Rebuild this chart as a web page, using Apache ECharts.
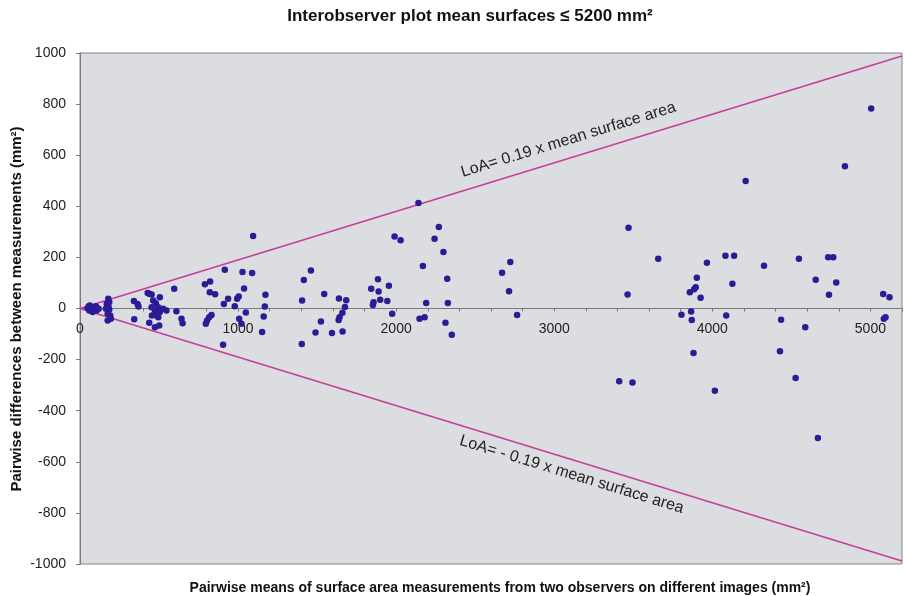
<!DOCTYPE html>
<html>
<head>
<meta charset="utf-8">
<script src="https://cdn.jsdelivr.net/npm/echarts@6/dist/echarts.min.js"></script>
<style>
  html, body { margin: 0; padding: 0; background: #ffffff; }
  #chart { width: 904px; height: 596px; }
</style>
</head>
<body>
<div id="chart"></div>
<script>
// Pairwise means (mm²) and differences (mm²) between two observers
const pairMeans = [
  49, 55, 59, 69, 80, 90, 101, 105, 118, 75, 95, 62,
  179, 169, 185, 164, 185, 175, 191, 175, 195, 180,
  341, 364, 370, 343, 428, 438, 453, 505, 463, 480, 453, 495, 474, 526, 505, 484, 455, 438, 495, 474, 501, 547, 596, 610, 642, 649,
  790, 823, 821, 855, 916, 910, 937, 832, 817, 804, 796, 905, 1028, 1089, 1095, 1038, 1004, 994, 979, 1049, 1007, 1021, 1173, 1169, 1162, 1152,
  1461, 1416, 1405, 1545, 1638, 1684, 1676, 1660, 1642, 1636, 1524, 1490, 1594, 1661, 1403,
  1885, 1842, 1889, 1954, 1899, 1944, 1857, 1853, 1975, 1990, 2028, 2141, 2270, 2243, 2299, 2169, 2323, 2190, 2327, 2148, 2180, 2312, 2352,
  2670, 2722, 2714, 2765,
  3470, 3464, 3411, 3495, 3658, 3966, 4083, 4138, 4127, 3902, 3895, 3885, 3858, 3926, 3805, 3866, 3870, 4088, 3881, 4016,
  5005, 4839, 4211, 4327, 4548, 4654, 4733, 4765, 4784, 4738, 5081, 5121, 5085, 5096, 4435, 4588, 4428, 4527, 4668
];
const pairDiffs = [
  1, 9, -8, -4, -14, 5, 9, -8, -1, 3, -3, 12,
  38, 18, 25, -1, -4, -21, -27, -47, -40, 8,
  29, 18, 8, -42, 61, 58, 55, 44, 31, 21, 5, 5, -8, -1, -14, -27, -27, -56, -34, -73, -67, -8, 77, -11, -40, -58,
  95, 106, 64, 56, 152, 18, 38, -25, -34, -47, -60, -142, 143, 139, 284, 78, 47, 38, 9, -16, -40, -60, 54, 8, -31, -92,
  149, 112, 31, 57, 39, 32, 6, -17, -34, -45, -51, -94, -96, -90, -139,
  114, 77, 67, 89, 34, 29, 24, 14, -21, 282, 267, 413, 319, 273, 221, 166, 116, 22, 22, -40, -34, -56, -103,
  140, 182, 68, -25,
  316, 55, -285, -290, 195, 179, 206, 206, 97, 120, 83, 75, 64, 42, -24, -12, -45, -27, -174, -322,
  783, 557, 499, 167, 195, 113, 201, 201, 102, 54, 57, 44, -40, -34, -44, -73, -167, -272, -507
];

// Limits of agreement: ± factor × mean surface area
const loaFactor = 0.19;
const xRange = [0, 5200];
const yRange = [-1000, 1000];

const titleText = 'Interobserver plot mean surfaces ≤ 5200 mm²';
const xName = 'Pairwise means of surface area measurements from two observers on different images (mm²)';
const yName = 'Pairwise differences between measurements (mm²)';
const upperLabel = 'LoA= 0.19 x mean surface area';
const lowerLabel = 'LoA= - 0.19 x mean surface area';

const points = pairMeans.map((m, i) => [m, pairDiffs[i]]);
const upperLine = xRange.map(x => [x, loaFactor * x]);
const lowerLine = xRange.map(x => [x, -loaFactor * x]);

const bold = "'Liberation Sans', Arial, sans-serif";
const plain = "'Liberation Sans', Arial, sans-serif";

const gridTop = 53, gridBottom = 32, chartH = 596;
const gridH = chartH - gridTop - gridBottom;
// raise the horizontal axis from the bottom edge to the zero line
const zeroOffset = -gridH * (0 - yRange[0]) / (yRange[1] - yRange[0]);

const chart = echarts.init(document.getElementById('chart'), null, { renderer: 'canvas' });

const option = {
  animation: false,
  backgroundColor: '#ffffff',
  grid: {
    left: 80, right: 2, top: gridTop, bottom: gridBottom,
    containLabel: false,
    outerBoundsMode: 'none',
    show: true,
    backgroundColor: '#dcdde0',
    borderColor: '#858585',
    borderWidth: 1
  },
  xAxis: {
    type: 'value',
    position: 'bottom',
    offset: zeroOffset,
    min: xRange[0], max: xRange[1], interval: 1000,
    axisLine: { onZero: false, lineStyle: { color: '#7a7a7a', width: 1 } },
    axisTick: { show: true, length: 3, lineStyle: { color: '#7a7a7a' } },
    minorTick: { show: true, splitNumber: 5, length: 3, lineStyle: { color: '#7a7a7a' } },
    splitLine: { show: false },
    axisLabel: {
      showMaxLabel: false,
      margin: 14,
      formatter: v => String(v),
      fontFamily: plain, fontSize: 14, color: '#222'
    }
  },
  yAxis: {
    type: 'value',
    min: yRange[0], max: yRange[1], interval: 200,
    axisLine: { show: true, onZero: false, lineStyle: { color: '#7a7a7a' } },
    axisTick: { show: true, length: 4, lineStyle: { color: '#7a7a7a' } },
    splitLine: { show: false },
    axisLabel: { margin: 14, formatter: v => String(v), fontFamily: plain, fontSize: 14, color: '#222' }
  },
  series: [
    {
      type: 'line',
      data: upperLine,
      symbol: 'none',
      lineStyle: { color: '#c83c9e', width: 1.6 },
      z: 2
    },
    {
      type: 'line',
      data: lowerLine,
      symbol: 'none',
      lineStyle: { color: '#c83c9e', width: 1.6 },
      z: 2
    },
    {
      type: 'scatter',
      data: points,
      symbol: 'circle',
      symbolSize: 6.5,
      itemStyle: { color: '#2a1c96', opacity: 1 },
      z: 3
    }
  ]
};

chart.setOption(option);

// Line annotations placed along the LoA lines, plus the chart and axis titles
const slopePx = (() => {
  const a = chart.convertToPixel({ gridIndex: 0 }, [0, 0]);
  const b = chart.convertToPixel({ gridIndex: 0 }, [5000, loaFactor * 5000]);
  return Math.atan2(a[1] - b[1], b[0] - a[0]);
})();
const upPos = chart.convertToPixel({ gridIndex: 0 }, [3090, 660]);
const lowPos = chart.convertToPixel({ gridIndex: 0 }, [3110, -650]);

chart.setOption({
  graphic: [
    {
      type: 'text', x: 470, y: 16,
      style: { text: titleText, fontFamily: bold, fontSize: 17, fontWeight: 'bold', fill: '#111', align: 'center', verticalAlign: 'middle' }
    },
    {
      type: 'text', x: 17, y: 309, rotation: Math.PI / 2,
      style: { text: yName, fontFamily: bold, fontSize: 15, fontWeight: 'bold', fill: '#111', align: 'center', verticalAlign: 'middle' }
    },
    {
      type: 'text', x: upPos[0], y: upPos[1], rotation: slopePx,
      style: { text: upperLabel, fontFamily: plain, fontSize: 16, fill: '#222', align: 'center', verticalAlign: 'middle' }
    },
    {
      type: 'text', x: lowPos[0], y: lowPos[1], rotation: -slopePx,
      style: { text: lowerLabel, fontFamily: plain, fontSize: 16, fill: '#222', align: 'center', verticalAlign: 'middle' }
    },
    {
      type: 'text', x: 500, y: 588,
      style: { text: xName, fontFamily: bold, fontSize: 14, fontWeight: 'bold', fill: '#111', align: 'center', verticalAlign: 'middle' }
    }
  ]
});
</script>
</body>
</html>
